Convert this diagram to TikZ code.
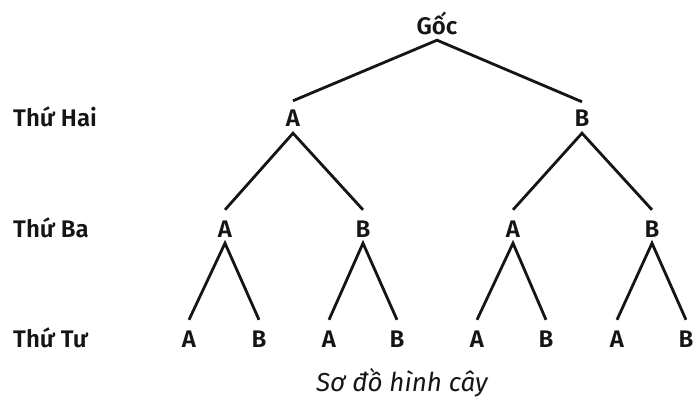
\documentclass[tikz,border=0pt]{standalone}
\usepackage{fontspec}
\setmainfont{Fira Sans}[BoldFont={Fira Sans SemiBold}]
\usetikzlibrary{calc}
\definecolor{ink}{HTML}{151515}
\tikzset{
  lbl/.style={font=\bfseries\fontsize{24}{24}\selectfont, text=ink, inner sep=0pt,
              text height=17pt, text depth=0pt, anchor=base},
  rowlbl/.style={lbl, anchor=base west},
  branch/.style={draw=ink, line width=2.8pt, line join=miter, line cap=butt},
}
\newcommand{\fork}[3]{%
  \draw[branch] ($(#2.north)+(0,-10)$) -- ($(#1.south)+(0,6)$) -- ($(#3.north)+(0,-10)$);}
\begin{document}
\begin{tikzpicture}[x=1pt, y=-1pt]
  \useasboundingbox (0,0) rectangle (697,401);
  % root
  \node[lbl] (r) at (437,35) {Gốc};
  % level 1
  \node[lbl] (a) at (293,127) {A};
  \node[lbl] (b) at (582,127) {B};
  % level 2
  \node[lbl] (aa) at (225,237) {A};
  \node[lbl] (ab) at (363,237) {B};
  \node[lbl] (ba) at (513,237) {A};
  \node[lbl] (bb) at (652,237) {B};
  % level 3
  \node[lbl] (aaa) at (189,347) {A};
  \node[lbl] (aab) at (259,347) {B};
  \node[lbl] (aba) at (329,347) {A};
  \node[lbl] (abb) at (397,347) {B};
  \node[lbl] (baa) at (477,347) {A};
  \node[lbl] (bab) at (546,347) {B};
  \node[lbl] (bba) at (617,347) {A};
  \node[lbl] (bbb) at (686,347) {B};
  % row labels
  \node[rowlbl] (l1) at (13,127) {Thứ Hai};
  \node[rowlbl] (l2) at (13,237) {Thứ Ba};
  \node[rowlbl] (l3) at (13,347) {Thứ Tư};
  % branches
  \draw[branch] ($(a.north)+(0,-9)$) -- ($(r.south)+(0,5)$) -- ($(b.north)+(0,-8)$);
  \fork{a}{aa}{ab}
  \fork{b}{ba}{bb}
  \fork{aa}{aaa}{aab}
  \fork{ab}{aba}{abb}
  \fork{ba}{baa}{bab}
  \fork{bb}{bba}{bbb}
  % caption
  \node[font=\itshape\fontsize{26}{26}\selectfont, text=ink, anchor=base, inner sep=0pt]
    (cap) at (402,391) {Sơ đồ hình cây};
\end{tikzpicture}
\end{document}
